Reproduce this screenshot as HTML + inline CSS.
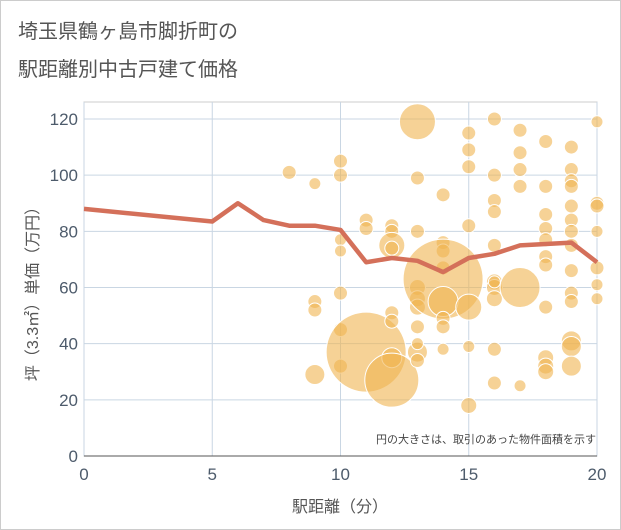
<!DOCTYPE html>
<html><head><meta charset="utf-8"><style>
body{margin:0;background:#fff;font-family:"Liberation Sans","Noto Sans CJK JP",sans-serif}
#wrap{position:relative;width:619px;height:528px;border:1px solid #ccc;background:#fff}
</style></head><body>
<div id="wrap">
<svg id="c" width="621" height="530" style="position:absolute;left:-1px;top:-1px">
<text x="18" y="38" font-size="20" fill="#555" font-family="Liberation Sans,Noto Sans CJK JP,sans-serif">埼玉県鶴ヶ島市脚折町の</text>
<text x="18" y="76" font-size="20" fill="#555" font-family="Liberation Sans,Noto Sans CJK JP,sans-serif">駅距離別中古戸建て価格</text>
<g id="grid"></g><g id="bub"></g><g id="ln"></g><g id="ax"></g>
<text x="596" y="443" font-size="11" fill="#444" text-anchor="end" font-family="Liberation Sans,Noto Sans CJK JP,sans-serif">円の大きさは、取引のあった物件面積を示す</text>
<text x="340" y="512" font-size="16" fill="#555" text-anchor="middle" font-family="Liberation Sans,Noto Sans CJK JP,sans-serif">駅距離（分）</text>
<text transform="translate(38,290) rotate(-90)" font-size="16" fill="#555" text-anchor="middle" font-family="Liberation Sans,Noto Sans CJK JP,sans-serif">坪（3.3㎡）単価（万円）</text>
</svg></div>
<script>
const xTicks=[0,5,10,15,20];
const yTicks=[0,20,40,60,80,100,120];
const lineX=[0,5,6,7,8,9,10,11,12,13,14,15,16,17,18,19,20];
const lineY=[88,83.5,90,84,82,82,80.5,69,70.5,69.5,65.5,70.5,72,75,75.5,76,69];
const bubX=[8,9,9,9,9,10,10,10,10,10,10,10,11,11,11,12,12,12,12,12,12,12,12,13,13,13,13,13,13,13,13,13,13,14,14,14,14,14,14,14,14,14,15,15,15,15,15,15,15,16,16,16,16,16,16,16,16,16,16,16,17,17,17,17,17,17,18,18,18,18,18,18,18,18,18,18,18,19,19,19,19,19,19,19,19,19,19,19,19,19,19,20,20,20,20,20,20,20];
const bubY=[101,97,55,52,29,105,100,77,73,58,45,32,84,81,37,82,80,75,74,51,48,35,27,119,99,80,60,56,53,46,37,34,40,93,76,73,67,63,55,49,46,38,115,109,103,82,53,39,18,120,100,91,87,75,62,60,56,38,26,62,116,108,102,96,60,25,112,96,86,81,77,71,68,53,35,32,30,110,102,98,96,89,84,80,75,66,58,55,41,39,32,119,90,89,80,67,61,56];
const bubR=[7,6,7,7,10,7,7,6,6,7,7,7,7,7,40,7,7,13,7,7,7,10,27,18,7,7,8,8,8,7,10,7,6,7,7,7,7,40,15,7,7,6,7,7,7,7,13,6,8,7,7,7,7,7,8,8,8,7,7,6,7,7,7,7,20,6,7,7,7,7,7,7,7,7,8,8,8,7,7,7,7,7,7,7,7,7,7,7,10,10,10,6,7,7,6,7,6,6];
const X0=84,X1=597,Y0=456,Y1=119;
const sx=v=>X0+(X1-X0)*v/20, sy=v=>Y0-(Y0-Y1)*v/120;
const NS="http://www.w3.org/2000/svg";
function mk(t,p,a){const e=document.createElementNS(NS,t);for(const k in a)e.setAttribute(k,a[k]);p.appendChild(e);return e;}
const g=document.getElementById('grid'),b=document.getElementById('bub'),l=document.getElementById('ln'),ax=document.getElementById('ax');
mk('rect',g,{x:X0,y:102,width:X1-X0,height:Y0-102,fill:'none',stroke:'#ccc'});
yTicks.forEach(v=>{const e=mk('line',g,{x1:X0,x2:X1,y1:sy(v),y2:sy(v),stroke:'#c9d6e3'});


const t=mk('text',ax,{x:X0-6,y:sy(v)+6,'text-anchor':'end','font-size':17,fill:'#4d5b6b'});t.textContent=v;

});
xTicks.forEach(v=>{const e=mk('line',g,{x1:sx(v),x2:sx(v),y1:102,y2:Y0,stroke:'#c9d6e3'});


const t=mk('text',ax,{x:sx(v),y:480,'text-anchor':'middle','font-size':17,fill:'#4d5b6b'});t.textContent=v;

});
mk('line',ax,{x1:X0,x2:X1,y1:Y0,y2:Y0,stroke:'#555'});
bubX.forEach((x,i)=>{const c=mk('circle',b,{cx:sx(x),cy:sy(bubY[i]),r:bubR[i],fill:'rgba(240,180,80,0.6)',stroke:'#fff','stroke-width':1});

});
const p=mk('polyline',l,{points:lineX.map((x,i)=>sx(x)+','+sy(lineY[i])).join(' '),fill:'none',stroke:'#d4705a','stroke-width':4.5,'stroke-linejoin':'round'});


</script>
</body></html>
